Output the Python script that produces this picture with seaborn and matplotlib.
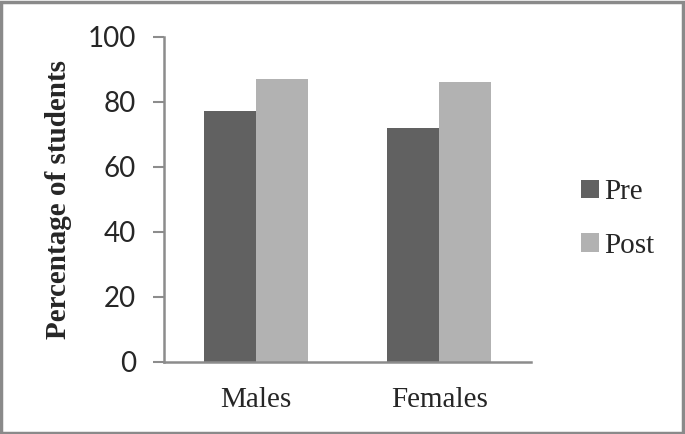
import matplotlib
import matplotlib.pyplot as plt
import pandas as pd
import seaborn as sns
from matplotlib.patches import Patch, Rectangle

matplotlib.use("agg")

groups = ["Males", "Females"]
phases = ["Pre", "Post"]
pre_values = [77, 72]
post_values = [87, 86]
y_ticks = [0, 20, 40, 60, 80, 100]

colors = {"Pre": "#616161", "Post": "#b2b2b2"}
serif = ["Liberation Serif", "DejaVu Serif"]
sans = ["Lato", "DejaVu Sans"]

df = pd.DataFrame({
    "group": groups * 2,
    "phase": ["Pre"] * len(groups) + ["Post"] * len(groups),
    "value": pre_values + post_values,
})

sns.set_style("white")

fig = plt.figure(figsize=(6.85, 4.34), dpi=100)
ax = fig.add_axes([0.2394, 0.1666, 0.5358, 0.7488])

sns.barplot(
    data=df, x="group", y="value", hue="phase", order=groups,
    hue_order=phases, palette=colors, width=0.567, saturation=1,
    linewidth=0, legend=False, ax=ax,
)

ax.set_ylim(0, 100)
ax.set_xlim(-0.5, 1.5)
ax.set_yticks(y_ticks)
ax.set_yticklabels([str(t) for t in y_ticks], fontfamily=sans, fontsize=20)
ax.set_xticks(range(len(groups)))
ax.set_xticklabels(groups, fontfamily=serif, fontsize=21)
ax.tick_params(axis="y", length=8, width=1.5, color="#8c8c8c",
               direction="out", pad=12, left=True)
ax.tick_params(axis="x", length=0, pad=18)

for side in ["top", "right"]:
    ax.spines[side].set_visible(False)
for side in ["left", "bottom"]:
    ax.spines[side].set_color("#8c8c8c")
    ax.spines[side].set_linewidth(1.8)

ax.set_xlabel("")
ax.set_ylabel("Percentage of students", fontfamily=serif, fontsize=21,
              fontweight="bold")
ax.yaxis.set_label_coords(-0.25, 0.5)

handles = [Patch(facecolor=colors[p], edgecolor="none") for p in phases]
fig.legend(
    handles, phases, loc="center left", bbox_to_anchor=(0.81, 0.495),
    frameon=False, prop={"family": serif, "size": 21},
    handlelength=0.6, handleheight=0.6, handletextpad=0.2, labelspacing=0.95,
)

fig.patches.append(Rectangle((0.002, 0.003), 0.995, 0.993,
                             transform=fig.transFigure, fill=False,
                             edgecolor="#8a8a8a", linewidth=2.5))

fig.savefig("out.png", dpi=100)
